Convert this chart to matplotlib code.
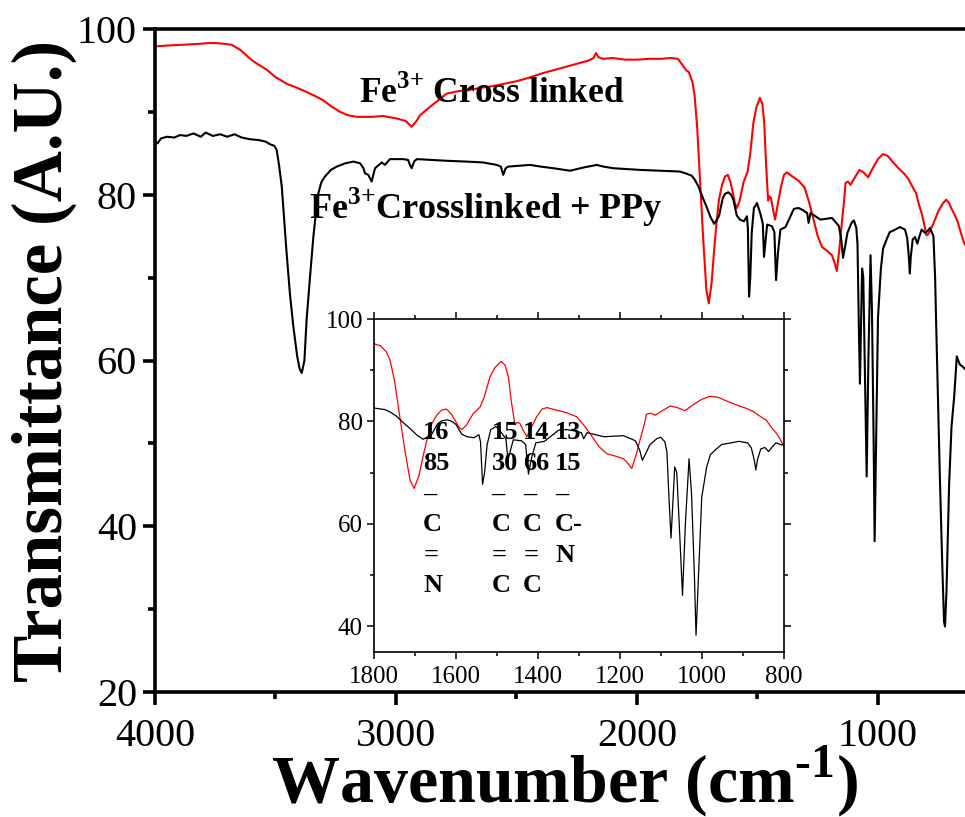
import matplotlib
matplotlib.use("Agg")
import matplotlib.pyplot as plt
from matplotlib.ticker import MultipleLocator

plt.rcParams["font.family"] = ["Liberation Serif", "DejaVu Serif"]
plt.rcParams["mathtext.fontset"] = "custom"
plt.rcParams["mathtext.rm"] = "Liberation Serif"
plt.rcParams["mathtext.bf"] = "Liberation Serif:bold"

# FTIR spectrum: Fe3+ crosslinked + PPy (black)
wn_ppy = [4000, 3990, 3975, 3950, 3920, 3896, 3870, 3840, 3810, 3790, 3760, 3730,
          3700, 3670, 3640, 3606, 3570, 3540, 3523, 3505, 3495, 3485, 3474, 3464,
          3454, 3440, 3426, 3410, 3400, 3391, 3380, 3371, 3357, 3343, 3330, 3322,
          3310, 3295, 3270, 3246, 3210, 3177, 3149, 3135, 3129, 3115, 3101, 3093,
          3087, 3059, 3046, 3025, 2970, 2950, 2942, 2935, 2925, 2914, 2850, 2790,
          2707, 2640, 2582, 2565, 2555, 2545, 2534, 2444, 2400, 2347, 2278, 2220,
          2167, 2140, 2098, 2040, 1988, 1900, 1822, 1800, 1773, 1760, 1745, 1725,
          1712, 1695, 1680, 1668, 1659, 1645, 1635, 1621, 1610, 1600, 1586, 1573,
          1556, 1544, 1540, 1535, 1530, 1524, 1515, 1502, 1487, 1478, 1473, 1468,
          1460, 1440, 1430, 1423, 1415, 1405, 1384, 1365, 1349, 1330, 1315, 1294,
          1288, 1280, 1239, 1191, 1170, 1162, 1152, 1145, 1135, 1127, 1110, 1100,
          1090, 1085, 1080, 1075, 1070, 1066, 1061, 1055, 1047, 1040, 1031, 1025,
          1018, 1014, 1008, 1000, 988, 979, 963, 951, 935, 909, 888, 879, 872, 868,
          864, 856, 846, 837, 828, 819, 805, 795, 784, 770, 763, 759, 743, 733, 726,
          722, 716, 705, 695, 684, 673, 667, 660, 650, 640]
t_ppy = [86.4, 86.2, 86.8, 87.0, 86.9, 87.2, 87.1, 87.4, 87.0, 87.5, 87.1, 87.3,
         87.0, 87.3, 86.9, 86.7, 86.6, 86.4, 86.1, 85.9, 85.4, 83.5, 81.0, 77.0,
         73.0, 68.0, 64.1, 60.5, 59.0, 58.5, 60.0, 64.9, 70.0, 74.9, 78.5, 80.2,
         81.5, 82.2, 83.0, 83.4, 83.8, 84.0, 83.8, 83.2, 82.6, 82.4, 81.6, 82.5,
         83.2, 83.9, 83.6, 84.3, 84.3, 84.2, 83.6, 83.2, 84.0, 84.3, 84.2, 84.1,
         84.0, 83.9, 83.6, 83.4, 82.4, 83.2, 83.4, 83.6, 83.4, 83.2, 82.9, 83.3,
         83.6, 83.4, 83.2, 83.1, 83.0, 82.9, 82.8, 82.6, 82.3, 81.8, 81.0, 79.5,
         78.6, 77.3, 76.5, 77.0, 77.5, 79.5, 80.1, 80.3, 80.0, 79.4, 77.5, 77.0,
         76.8, 77.4, 76.0, 67.7, 70.0, 75.4, 78.4, 79.0, 77.6, 76.5, 72.5, 74.0,
         76.4, 76.2, 75.5, 69.7, 73.0, 75.8, 76.1, 77.3, 78.3, 78.4, 78.2, 77.8,
         76.6, 77.8, 77.0, 77.2, 76.5, 76.2, 74.5, 72.4, 74.0, 75.4, 76.6, 76.9,
         76.0, 74.0, 65.0, 57.2, 65.0, 71.1, 70.0, 60.0, 46.0, 60.0, 72.7, 66.0,
         50.0, 38.2, 50.0, 65.2, 71.1, 73.5, 74.7, 75.5, 75.7, 76.1, 75.8, 74.8,
         72.5, 70.5, 72.5, 74.6, 74.9, 74.1, 75.0, 75.8, 75.4, 75.6, 76.0, 75.0,
         70.0, 64.9, 45.6, 35.0, 28.5, 27.9, 32.0, 45.0, 52.0, 55.6, 60.5, 60.0,
         59.5, 59.3, 59.0]

# FTIR spectrum: Fe3+ crosslinked (red)
wn_fe = [4000, 3950, 3884, 3820, 3780, 3744, 3710, 3682, 3665, 3647, 3620, 3592,
         3565, 3537, 3500, 3454, 3410, 3371, 3335, 3302, 3270, 3232, 3200, 3163,
         3100, 3053, 2997, 2960, 2935, 2915, 2900, 2859, 2820, 2790, 2740, 2700,
         2650, 2600, 2550, 2500, 2450, 2400, 2350, 2300, 2250, 2200, 2180, 2170,
         2160, 2140, 2100, 2050, 2000, 1950, 1900, 1860, 1830, 1815, 1805, 1795,
         1785, 1770, 1761, 1750, 1737, 1725, 1712, 1702, 1690, 1680, 1671, 1660,
         1647, 1635, 1623, 1612, 1602, 1594, 1586, 1575, 1558, 1541, 1530, 1517,
         1505, 1490, 1480, 1472, 1465, 1456, 1450, 1444, 1436, 1427, 1418, 1403,
         1390, 1378, 1355, 1330, 1305, 1285, 1265, 1250, 1232, 1210, 1191, 1180,
         1171, 1160, 1151, 1140, 1135, 1125, 1114, 1100, 1077, 1060, 1041, 1020,
         1000, 980, 960, 940, 915, 890, 874, 854, 842, 830, 817, 808, 799, 790,
         772, 750, 730, 717, 705, 695, 682, 670, 660, 650, 640]
t_fe = [97.9, 98.0, 98.1, 98.2, 98.3, 98.3, 98.2, 98.1, 97.8, 97.5, 96.8, 96.1,
        95.6, 95.1, 94.2, 93.4, 92.9, 92.4, 91.9, 91.4, 90.7, 90.0, 89.6, 89.4,
        89.4, 89.5, 89.2, 88.9, 88.2, 88.9, 89.6, 90.6, 91.5, 92.2, 92.5, 92.6,
        92.9, 93.1, 93.4, 93.7, 94.1, 94.6, 95.0, 95.4, 95.8, 96.2, 96.5, 97.1,
        96.6, 96.4, 96.5, 96.3, 96.3, 96.4, 96.4, 96.5, 96.4, 95.8, 95.4, 95.0,
        94.8, 93.6, 92.0, 88.0, 80.9, 74.5, 68.5, 66.9, 69.5, 73.3, 76.3, 79.4,
        81.2, 82.2, 82.4, 81.5, 80.2, 79.0, 78.4, 79.2, 81.5, 82.8, 85.0, 88.7,
        90.5, 91.7, 91.0, 88.7, 84.0, 79.3, 79.8, 79.6, 78.3, 77.0, 78.5, 80.9,
        82.4, 82.7, 82.2, 81.7, 80.9, 79.0, 76.7, 75.0, 73.7, 73.2, 72.7, 71.8,
        70.8, 73.5, 76.3, 79.5, 81.4, 81.6, 81.2, 81.9, 83.0, 82.7, 82.1, 83.3,
        84.3, 84.9, 84.7, 84.0, 83.2, 82.5, 81.9, 80.8, 80.2, 78.8, 77.6, 76.4,
        75.1, 75.3, 76.4, 78.0, 79.0, 79.4, 79.0, 78.3, 77.6, 76.8, 75.8, 74.8, 74.0]

# Band assignments shown in the inset
band_text = ["16\n85\n\u2013\nC\n=\nN", "15\n30\n\u2013\nC\n=\nC",
             "14\n66\n\u2013\nC\n=\nC", "13\n15\n\u2013\nC-\nN"]
band_x = [1680, 1513, 1436, 1358]

fig = plt.figure(figsize=(9.65, 8.17), dpi=100)
W, H = 965, 817
ax = fig.add_axes([155 / W, (H - 692) / H, (974.4 - 155) / W, (692 - 29) / H])

ax.plot(wn_fe, t_fe, color="#ff0000", lw=1.5)
ax.plot(wn_ppy, t_ppy, color="black", lw=1.5)
ax.set_xlim(4000, 600)
ax.set_ylim(20, 100)
ax.xaxis.set_major_locator(MultipleLocator(1000))
ax.xaxis.set_minor_locator(MultipleLocator(500))
ax.yaxis.set_major_locator(MultipleLocator(20))
ax.yaxis.set_minor_locator(MultipleLocator(10))
for s in ax.spines.values():
    s.set_linewidth(2.6)
ax.tick_params(which="major", direction="out", length=9, width=2.6,
               labelsize=29, pad=4)
ax.tick_params(which="minor", direction="out", length=5, width=2.6)
ax.tick_params(axis="x", which="major", pad=10)

ax.set_xlabel("Wavenumber (cm$^{\\mathbf{\u20101}}$)", fontsize=49,
              fontweight="bold", labelpad=-8)
ax.set_ylabel("Transmittance (A.U.)", fontsize=51, fontweight="bold", labelpad=0)

ax.text(2602, 92.3, r"Fe$^{\mathbf{3{+}}}$ Cross linked", fontsize=25.5,
        fontweight="bold", ha="center", va="center")
ax.text(2627, 78.5, r"Fe$^{\mathbf{3{+}}}$Crosslinked + PPy", fontsize=26,
        fontweight="bold", ha="center", va="center")

# Inset: 1800-800 cm-1 region
ins = fig.add_axes([374 / W, (H - 651.7) / H, 409.7 / W, (651.7 - 319) / H])
ins.plot(wn_fe, t_fe, color="#ff0000", lw=0.9)
ins.plot(wn_ppy, t_ppy, color="black", lw=0.9)
ins.set_xlim(1800, 800)
ins.set_ylim(35, 100)
ins.xaxis.set_major_locator(MultipleLocator(200))
ins.xaxis.set_minor_locator(MultipleLocator(100))
ins.yaxis.set_major_locator(MultipleLocator(20))
ins.yaxis.set_minor_locator(MultipleLocator(10))
for s in ins.spines.values():
    s.set_linewidth(1.2)
ins.tick_params(which="both", direction="out", width=1.1, top=True, right=True,
                labelsize=18, pad=3)
ins.tick_params(axis="x", which="both", pad=5)
ins.tick_params(which="major", length=5)
ins.tick_params(which="minor", length=3)

for x, txt in zip(band_x, band_text):
    ins.text(x, 80.0, txt, fontsize=19, fontweight="bold", ha="left", va="top",
             linespacing=1.42)

fig.savefig("out.png", dpi=100)
